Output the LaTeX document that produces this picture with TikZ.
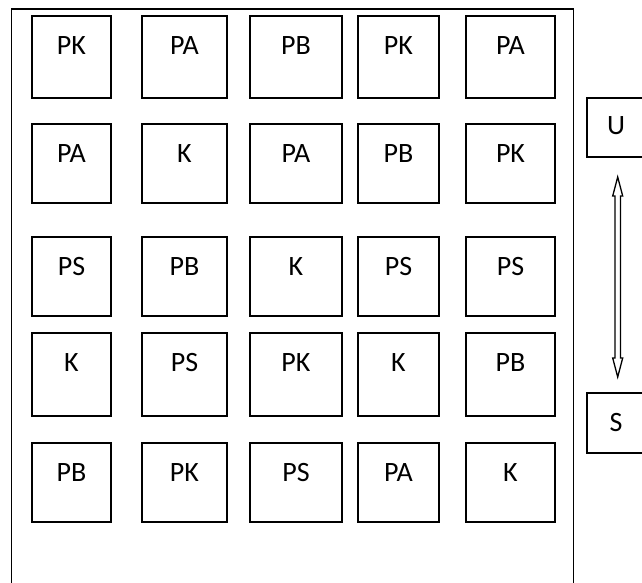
\documentclass[tikz,border=0pt]{standalone}
\usepackage{fontspec}
\setmainfont{Carlito}
\usetikzlibrary{calc}
\newcommand\mycell[7][39]{\node[cellbox, minimum width={(#5-#4)*1pt}, minimum height={(#7-#6)*1pt}, label={[lbl,yshift=-#1pt]north:#3}] (#2) at ({(#4+#5)/2},{(#6+#7)/2}) {};}
\begin{document}
\begin{tikzpicture}[x=1pt,y=-1pt,
  cellbox/.style={draw, line width=1.6pt, rectangle, inner sep=0pt},
  lbl/.style={font=\fontsize{28}{30}\selectfont, anchor=base, inner sep=0pt},
  frame/.style={line width=1.6pt}]
\useasboundingbox (0,0) rectangle (642,583);
\clip (0,0) rectangle (642,583);
\draw[frame] (11.5,600) -- (11.5,9) -- (573.5,9) -- (573.5,600);
% row 1
\mycell{b11}{PK}{32}{111}{16}{98}
\mycell{b12}{PA}{142}{227}{16}{98}
\mycell{b13}{PB}{250}{342}{16}{98}
\mycell{b14}{PK}{358}{439}{16}{98}
\mycell{b15}{PA}{466}{555}{16}{98}
% row 2
\mycell{b21}{PA}{32}{111}{124}{203}
\mycell{b22}{K}{142}{227}{124}{203}
\mycell{b23}{PA}{250}{342}{124}{203}
\mycell{b24}{PB}{358}{439}{124}{203}
\mycell{b25}{PK}{466}{555}{124}{203}
% row 3
\mycell{b31}{PS}{32}{111}{237}{316}
\mycell{b32}{PB}{142}{227}{237}{316}
\mycell{b33}{K}{250}{342}{237}{316}
\mycell{b34}{PS}{358}{439}{237}{316}
\mycell{b35}{PS}{466}{555}{237}{316}
% row 4
\mycell{b41}{K}{32}{111}{333}{416}
\mycell{b42}{PS}{142}{227}{333}{416}
\mycell{b43}{PK}{250}{342}{333}{416}
\mycell{b44}{K}{358}{439}{333}{416}
\mycell{b45}{PB}{466}{555}{333}{416}
% row 5
\mycell{b51}{PB}{32}{111}{443}{522}
\mycell{b52}{PK}{142}{227}{443}{522}
\mycell{b53}{PS}{250}{342}{443}{522}
\mycell{b54}{PA}{358}{439}{443}{522}
\mycell{b55}{K}{466}{555}{443}{522}
% U and S
\mycell[37]{U}{U}{586.7}{645.3}{98}{157}
\mycell[39]{S}{S}{586.7}{645.3}{393}{453}
% double-headed hollow arrow
\coordinate (atop) at (617.7,177);
\coordinate (abot) at (617.7,377);
\draw[line width=1.3pt, line join=miter]
  (atop) -- ($(atop)+(5,19)$) -- ($(atop)+(2.7,19)$) -- ($(abot)+(2.7,-19)$)
  -- ($(abot)+(5,-19)$) -- (abot) -- ($(abot)+(-5,-19)$) -- ($(abot)+(-2.7,-19)$)
  -- ($(atop)+(-2.7,19)$) -- ($(atop)+(-5,19)$) -- cycle;
\end{tikzpicture}
\end{document}
